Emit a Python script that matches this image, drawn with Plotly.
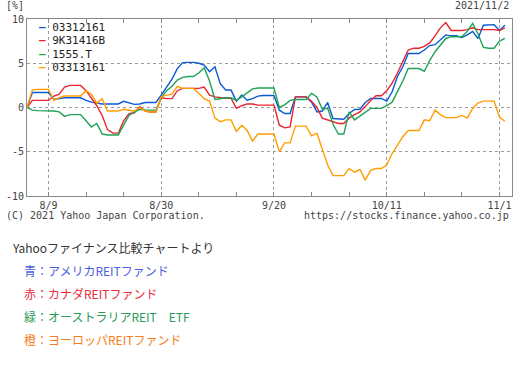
import pandas as pd
import plotly.graph_objects as go

# ---- data (daily, 2021-08-05 .. 2021-11-02) ----
dates = pd.date_range("2021-08-05", "2021-11-02", freq="D")

series_names = ["03312161", "9K31416B", "1555.T", "03313161"]
series_colors = ["#0a5ad6", "#e8242e", "#1fa356", "#ff9d00"]

blue = [0, 1.7, 1.7, 1.7, 1.7, 0.9, 1.0, 1.1, 1.1, 1.1,
        1.1, 0.8, 0.6, 0.5, 0.4, 0.4, 0.4, 0.4, 0.7, 0.5,
        0.35, 0.4, 0.57, 0.57, 0.57, 1.4, 2.3, 3.2, 4.4, 5.07,
        5.1, 5.1, 5.0, 4.8, 4.05, 4.6, 2.7, 1.97, 1.97, 0.72,
        1.4, 0.83, 1.0, 1.29, 1.36, 1.36, 1.36, -0.3, -0.68, -0.68,
        1.2, 1.2, 1.2, 0.6, -0.5, -0.4, 0.57, -1.25, -1.33, -1.33,
        -0.68, -0.23, -0.2, 0.57, 1.02, 1.02, 1.02, 0.72, 1.78, 3.5,
        4.6, 6.1, 6.1, 6.1, 6.5, 7.0, 7.1, 7.6, 8.2, 8.1,
        8.1, 7.9, 8.2, 8.6, 7.8, 9.3, 9.36, 9.36, 8.7, 9.3]

red = [0, 0.8, 0.8, 0.8, 0.8, 1.3, 1.5, 2.3, 2.5, 2.5,
       2.5, 1.9, 1.0, 0.2, -0.9, -2.5, -2.9, -2.9, -1.5, -0.7,
       -0.6, 0.1, -0.4, -0.5, -0.5, 1.1, 1.0, 1.0, 1.9, 2.16,
       2.16, 2.16, 2.16, 2.3, 1.4, 1.2, 1.1, 1.05, 1.05, -0.1,
       0.2, 0.4, 0.4, 0.27, 0.27, 0.27, 0.27, -2.0, -2.3, -2.2,
       1.2, 1.2, 1.2, 0.7, 0.0, -1.2, -1.4, -1.6, -1.8, -1.8,
       -1.2, -0.8, -0.5, 0.1, 0.8, 1.33, 1.33, 1.9, 2.75, 3.9,
       5.2, 6.5, 6.7, 6.7, 6.9, 7.3, 8.1, 9.0, 9.6, 8.7,
       8.7, 8.7, 8.8, 9.0, 8.8, 8.8, 8.8, 8.8, 8.7, 9.0]

green = [0, -0.3, -0.35, -0.35, -0.35, -0.4, -0.5, -1.0, -0.8, -0.8,
         -0.8, -1.5, -2.2, -1.8, -3.0, -3.1, -3.1, -3.1, -2.0, -0.9,
         -0.5, -0.2, -0.3, -0.3, -0.3, 1.1, 1.9, 2.4, 3.1, 3.4,
         3.5, 3.5, 3.9, 4.5, 3.0, 0.9, 1.0, 1.1, 1.1, 0.8,
         1.2, 1.6, 2.1, 2.2, 2.2, 2.2, 2.2, 0.0, 0.3, 0.8,
         0.9, 0.9, 0.9, 1.6, 1.2, -0.2, -0.1, -1.9, -3.0, -3.0,
         -0.5, -1.4, -1.0, -0.5, -0.1, -0.1, -0.1, 0.2, 0.6, 1.8,
         3.0, 4.4, 4.4, 4.4, 4.1, 5.3, 6.3, 7.0, 7.8, 8.0,
         8.0, 8.0, 8.6, 9.5, 8.3, 6.8, 6.7, 6.7, 7.5, 7.8]

orange = [0, 2.0, 2.05, 2.05, 2.05, 0.8, 1.1, 1.3, 1.3, 1.3,
          1.3, 1.9, 1.5, 0.5, 1.0, -0.4, -0.4, -0.4, -0.2, -0.3,
          -0.4, 0.0, -0.4, -0.5, -0.5, 1.2, 1.4, 1.5, 2.4, 2.16,
          2.16, 2.16, 1.6, 1.0, 0.72, -1.2, -1.6, -1.4, -1.4, -2.7,
          -2.0, -2.6, -3.8, -3.0, -3.0, -3.0, -3.0, -5.0, -4.0, -4.0,
          -2.1, -2.1, -2.1, -3.2, -2.9, -4.7, -6.5, -7.7, -7.7, -7.7,
          -6.9, -7.3, -7.0, -8.2, -7.1, -6.9, -6.9, -6.5, -5.2, -4.3,
          -3.3, -2.6, -2.6, -2.6, -1.4, -1.5, -0.3, -0.8, -1.14, -1.14,
          -1.14, -0.9, -1.2, -0.1, 0.5, 0.72, 0.72, 0.72, -1.1, -1.55]

series_values = [blue, red, green, orange]

x_tick_dates = ["2021-08-09", "2021-08-30", "2021-09-20", "2021-10-11", "2021-11-01"]
x_tick_labels = ["8/9", "8/30", "9/20", "10/11", "11/1"]
y_tick_vals = [-10, -5, 0, 5, 10]
y_tick_labels = ["-10", "-5", "0", "5", "10"]

note_lines = [
    ("Yahooファイナンス比較チャートより", "#333333"),
    ("青：アメリカREITファンド", "#4f5ee0"),
    ("赤：カナダREITファンド", "#ea2a3a"),
    ("緑：オーストラリアREIT\u3000ETF", "#2a9a55"),
    ("橙：ヨーロッパREITファンド", "#f47d20"),
]

# ---- layout geometry (pixels) ----
W, H = 521, 365
PL, PR, PT, PB = 27, 512, 19, 196


def px_x(px):
    return (px - PL) / (PR - PL)


def px_y(py):
    return (PB - py) / (PB - PT)


MONO = "DejaVu Sans Mono"
JP = "Noto Sans CJK JP"

fig = go.Figure()
for name, col, vals in zip(series_names, series_colors, series_values):
    fig.add_trace(go.Scatter(x=dates, y=vals, mode="lines", name=name,
                             line=dict(color=col, width=1.4),
                             showlegend=False, hoverinfo="skip"))

annotations = []
# pseudo legend inside the plot
for i, (name, col) in enumerate(zip(series_names, series_colors)):
    annotations.append(dict(
        x=px_x(37), y=px_y(27 + i * 13.6), xref="paper", yref="paper",
        xanchor="left", yanchor="middle", showarrow=False,
        text=f"<span style='color:{col}'><b>–</b></span> {name}",
        font=dict(family=MONO, size=11, color="#222222")))

# chart captions
captions = [
    dict(x=px_x(4), y=px_y(6), text="[%]", xanchor="left"),
    dict(x=px_x(511), y=px_y(6), text="2021/11/2", xanchor="right"),
    dict(x=px_x(4), y=px_y(215), text="(C) 2021 Yahoo Japan Corporation.", xanchor="left"),
    dict(x=px_x(511), y=px_y(215), text="https://stocks.finance.yahoo.co.jp", xanchor="right"),
]
for a in captions:
    a.update(xref="paper", yref="paper", yanchor="middle", showarrow=False,
             font=dict(family=MONO, size=10, color="#444444"))
annotations += captions

# notes below chart
for i, (txt, col) in enumerate(note_lines):
    annotations.append(dict(
        x=px_x(10 if i == 0 else 22), y=px_y(247 + i * 23), xref="paper", yref="paper",
        xanchor="left", yanchor="middle", showarrow=False, text=txt,
        font=dict(family=JP, size=12, color=col)))

fig.update_layout(
    width=W, height=H, autosize=False,
    margin=dict(l=PL, r=W - PR, t=PT, b=H - PB, pad=0),
    paper_bgcolor="white", plot_bgcolor="white",
    showlegend=False,
    annotations=annotations,
    xaxis=dict(
        type="date", automargin=False,
        range=["2021-08-05", "2021-11-03 08:00"],
        tickvals=x_tick_dates, ticktext=x_tick_labels,
        tickfont=dict(family=MONO, size=10, color="#444444"),
        showgrid=True, gridcolor="#9a9a9a", griddash="dot", gridwidth=1,
        showline=True, linecolor="#888888", linewidth=1, mirror="allticks",
        ticks="inside", ticklen=4, tickcolor="#888888",
        minor=dict(tick0="2021-08-09", dtick=7 * 86400000, ticks="inside",
                   ticklen=4, tickcolor="#888888", showgrid=False),
        zeroline=False, fixedrange=True,
    ),
    yaxis=dict(
        automargin=False,
        range=[-10, 10],
        tickvals=y_tick_vals, ticktext=y_tick_labels,
        tickfont=dict(family=MONO, size=10, color="#444444"),
        showgrid=True, gridcolor="#9a9a9a", griddash="dot", gridwidth=1,
        showline=True, linecolor="#888888", linewidth=1, mirror=True,
        ticks="", zeroline=False, fixedrange=True,
    ),
)

fig.write_html("out.html", config={"displayModeBar": False},
               post_script="document.body.style.margin='0';")
